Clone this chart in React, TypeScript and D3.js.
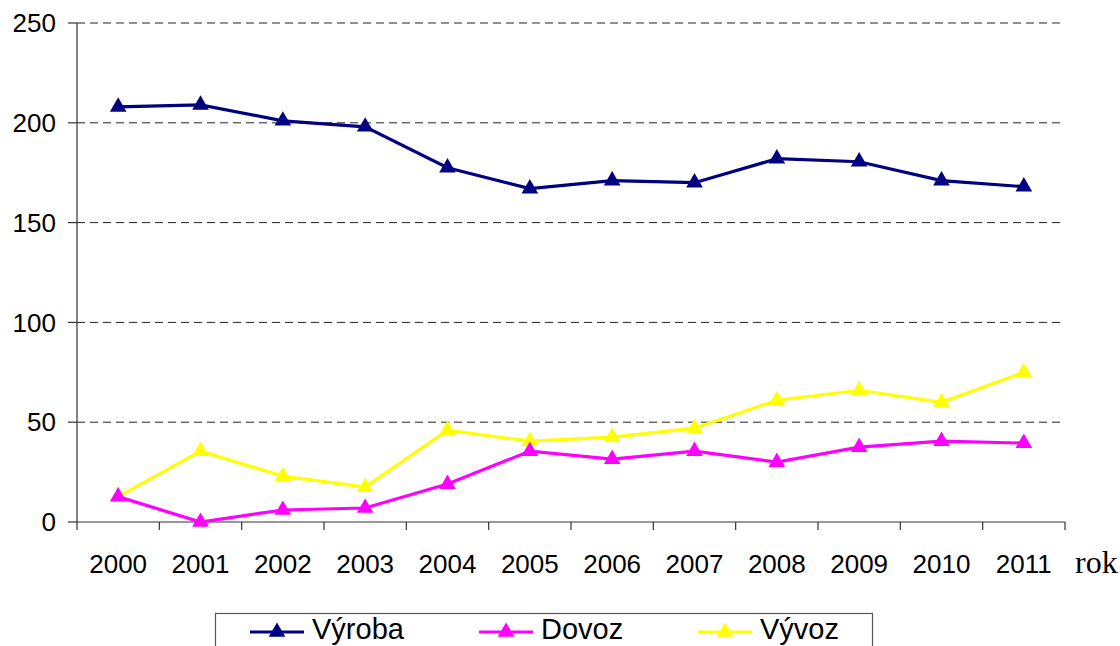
import React from 'react'
import * as d3 from 'd3'

const years = ['2000', '2001', '2002', '2003', '2004', '2005', '2006', '2007', '2008', '2009', '2010', '2011']
const vyroba = [208, 209, 201, 198, 177.5, 167, 171, 170, 182, 180.5, 171, 168]
const dovoz = [12.7, 0, 6, 7, 19, 35.5, 31.5, 35.5, 30, 37.5, 40.5, 39.5]
const vyvoz = [12.7, 35.5, 23, 17.5, 46, 40.5, 42.5, 47, 61, 66, 60, 75]
const yTicks = [0, 50, 100, 150, 200, 250]

const series = [
  { name: 'Výroba', values: vyroba, color: '#000080' },
  { name: 'Dovoz', values: dovoz, color: '#ff00ff' },
  { name: 'Vývoz', values: vyvoz, color: '#ffff00' },
]

const W = 1120
const H = 646
const left = 77
const right = 1065
const top = 23
const bottom = 522

// triangle marker, centered on the point
const tri = d3.symbol().type(d3.symbolTriangle).size(120)

const App = () => {
  const x = d3.scaleBand().domain(years).range([left, right])
  const y = d3.scaleLinear().domain([0, 250]).range([bottom, top])
  const cx = (yr: string) => (x(yr) as number) + x.bandwidth() / 2

  const line = d3.line<number>()
    .x((d, i) => cx(years[i]))
    .y(d => y(d))

  const font = '"Liberation Sans", Arial, sans-serif'
  const legendX = [250, 479, 698]

  return (
    <div className='App'>
      <svg width={W} height={H} style={{ position: 'absolute', left: 0, top: 0, background: '#fff' }}>
        {/* grid */}
        {yTicks.filter(t => t > 0).map(t => (
          <line key={'g' + t} x1={left} x2={right} y1={y(t)} y2={y(t)}
            stroke='#222' strokeWidth={1} strokeDasharray='8,5' />
        ))}
        {/* y axis */}
        <line x1={left} x2={left} y1={top} y2={bottom} stroke='#333' strokeWidth={1.2} />
        {yTicks.map(t => (
          <g key={'y' + t}>
            <line x1={left - 9} x2={left} y1={y(t)} y2={y(t)} stroke='#333' strokeWidth={1.2} />
            <text x={56} y={y(t)} dy='0.35em' textAnchor='end' fontFamily={font} fontSize={26}>{t}</text>
          </g>
        ))}
        {/* x axis */}
        <line x1={left} x2={right} y1={bottom} y2={bottom} stroke='#333' strokeWidth={1.2} />
        {years.concat(['end']).map((yr, i) => {
          const px = left + i * x.bandwidth()
          return <line key={'xt' + i} x1={px} x2={px} y1={bottom} y2={bottom + 8} stroke='#333' strokeWidth={1.2} />
        })}
        {years.map(yr => (
          <text key={'xl' + yr} x={cx(yr)} y={573} textAnchor='middle' fontFamily={font} fontSize={26}>{yr}</text>
        ))}
        <text x={1075} y={573} fontFamily='"Liberation Serif", "Times New Roman", serif' fontSize={32}>rok</text>

        {/* series, drawn so that Výroba ends up on top */}
        {series.slice().reverse().map(s => (
          <g key={s.name}>
            <path d={line(s.values) || ''} fill='none' stroke={s.color} strokeWidth={3.2} />
            {s.values.map((v, i) => (
              <path key={i} d={tri() || ''} transform={`translate(${cx(years[i])},${y(v)})`} fill={s.color} />
            ))}
          </g>
        ))}

        {/* legend */}
        <rect x={215.5} y={613.5} width={657} height={60} fill='#fff' stroke='#555' strokeWidth={1.2} />
        {series.map((s, i) => (
          <g key={'lg' + s.name}>
            <line x1={legendX[i]} x2={legendX[i] + 54} y1={632} y2={632} stroke={s.color} strokeWidth={3.2} />
            <path d={tri() || ''} transform={`translate(${legendX[i] + 27},${632})`} fill={s.color} />
            <text x={legendX[i] + 62} y={639} fontFamily={font} fontSize={29}>{s.name}</text>
          </g>
        ))}
      </svg>
    </div>
  )
}

export default App
